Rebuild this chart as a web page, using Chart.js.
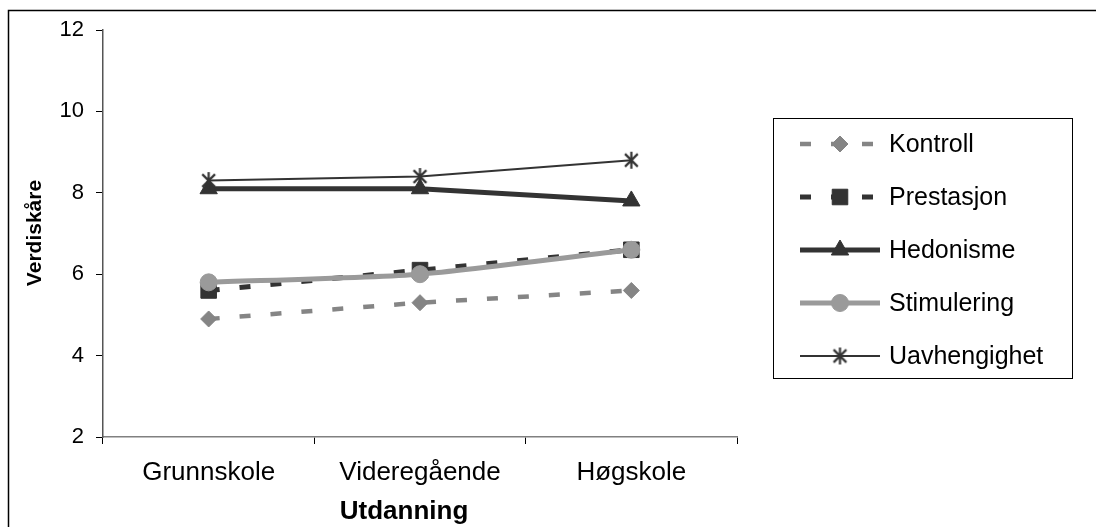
<!DOCTYPE html>
<html>
<head>
<meta charset="utf-8">
<script src="https://cdn.jsdelivr.net/npm/chart.js@4"></script>
<style>
  body { margin: 0; background: #fff; }
</style>
</head>
<body>
<canvas id="chart" width="1096" height="527"></canvas>
<script>
// Data
const categories = ['Grunnskole', 'Videregående', 'Høgskole'];
const kontroll = [4.9, 5.3, 5.6];
const prestasjon = [5.6, 6.1, 6.6];
const hedonisme = [8.1, 8.1, 7.8];
const stimulering = [5.8, 6.0, 6.6];
const uavhengighet = [8.3, 8.4, 8.8];
const yTicks = [2, 4, 6, 8, 10, 12];

const FONT = '"Liberation Sans", Arial, sans-serif';
Chart.defaults.font.family = FONT;
Chart.defaults.color = '#000';

// Excel style asterisk marker (vertical bar + X)
function makeStar(size, color) {
    const c = document.createElement('canvas');
    c.width = size; c.height = size;
    const g = c.getContext('2d');
    const m = size / 2, r = size / 2 - 1, d = r * 0.75;
    g.strokeStyle = color;
    g.lineWidth = 2.2;
    g.beginPath();
    g.moveTo(m, m - r); g.lineTo(m, m + r);
    g.moveTo(m - d, m - d); g.lineTo(m + d, m + d);
    g.moveTo(m + d, m - d); g.lineTo(m - d, m + d);
    g.stroke();
    return c;
}
const star = makeStar(19, '#333');

// Boxed legend, frame lines and axis titles
const decorations = {
    id: 'decorations',
    afterDraw(chart) {
        const ctx = chart.ctx;
        ctx.save();
        // outer frame (top + left only)
        ctx.strokeStyle = '#000';
        ctx.lineWidth = 1.5;
        ctx.beginPath();
        ctx.moveTo(8.5, 527); ctx.lineTo(8.5, 10.5); ctx.lineTo(1096, 10.5);
        ctx.stroke();

        // legend box
        ctx.lineWidth = 1;
        ctx.strokeRect(773.5, 118.5, 299, 260);
        chart.data.datasets.forEach((ds, i) => {
            const y = 144 + i * 53;
            ctx.beginPath();
            ctx.setLineDash(ds.borderDash || []);
            ctx.lineWidth = ds.borderWidth;
            ctx.strokeStyle = ds.borderColor;
            ctx.lineCap = 'butt';
            ctx.moveTo(800, y); ctx.lineTo(880, y);
            ctx.stroke();
            ctx.setLineDash([]);
            ctx.fillStyle = ds.pointBackgroundColor;
            ctx.strokeStyle = ds.pointBorderColor;
            ctx.lineWidth = ds.pointBorderWidth;
            Chart.helpers.drawPoint(ctx, {
                pointStyle: ds.pointStyle, radius: ds.pointRadius,
                rotation: 0, borderWidth: ds.pointBorderWidth
            }, 840, y);
            ctx.fillStyle = '#000';
            ctx.font = '25px ' + FONT;
            ctx.textAlign = 'left';
            ctx.textBaseline = 'middle';
            ctx.fillText(ds.label, 889, y + 1);
        });

        // axis titles
        ctx.fillStyle = '#000';
        ctx.font = 'bold 26px ' + FONT;
        ctx.textAlign = 'center';
        ctx.textBaseline = 'middle';
        ctx.fillText('Utdanning', 404, 512);
        ctx.translate(35, 233);
        ctx.rotate(-Math.PI / 2);
        ctx.font = 'bold 21px ' + FONT;
        ctx.fillText('Verdiskåre', 0, 0);
        ctx.restore();
    }
};

const ctx = document.getElementById('chart').getContext('2d');
new Chart(ctx, {
    type: 'line',
    data: {
        labels: categories,
        datasets: [
            {
                label: 'Kontroll', data: kontroll,
                borderColor: '#858585', borderWidth: 4.5, borderDash: [11, 20],
                pointStyle: 'rectRot', pointRadius: 8,
                pointBackgroundColor: '#858585', pointBorderColor: '#858585', pointBorderWidth: 1,
                order: 5
            },
            {
                label: 'Prestasjon', data: prestasjon,
                borderColor: '#333', borderWidth: 5, borderDash: [11, 20],
                pointStyle: 'rect', pointRadius: 11,
                pointBackgroundColor: '#333', pointBorderColor: '#333', pointBorderWidth: 1,
                order: 4
            },
            {
                label: 'Hedonisme', data: hedonisme,
                borderColor: '#333', borderWidth: 5,
                pointStyle: 'triangle', pointRadius: 10,
                pointBackgroundColor: '#333', pointBorderColor: '#333', pointBorderWidth: 1,
                order: 3
            },
            {
                label: 'Stimulering', data: stimulering,
                borderColor: '#9a9a9a', borderWidth: 5, tension: 0.2,
                pointStyle: 'circle', pointRadius: 8.5,
                pointBackgroundColor: '#9a9a9a', pointBorderColor: '#9a9a9a', pointBorderWidth: 1,
                order: 2
            },
            {
                label: 'Uavhengighet', data: uavhengighet,
                borderColor: '#333', borderWidth: 2,
                pointStyle: star, pointRadius: 9,
                pointBackgroundColor: '#333', pointBorderColor: '#333', pointBorderWidth: 1,
                order: 1
            }
        ]
    },
    options: {
        responsive: false,
        animation: false,
        layout: { padding: { left: 0, top: 30, right: 359, bottom: 0 } },
        plugins: {
            legend: { display: false },
            tooltip: { enabled: false }
        },
        scales: {
            x: {
                offset: true,
                border: { color: '#808080', width: 1.5 },
                grid: { drawOnChartArea: false, drawTicks: true, tickLength: 7, color: '#000', offset: true },
                ticks: { font: { size: 26 }, padding: 13, color: '#000' },
                afterFit(scale) { scale.height = 90; }
            },
            y: {
                min: 2, max: 12,
                border: { color: '#555', width: 1.5 },
                grid: { drawOnChartArea: false, drawTicks: true, tickLength: 7, color: '#000' },
                ticks: { font: { size: 22 }, padding: 12, color: '#000' },
                afterBuildTicks(scale) { scale.ticks = yTicks.map(v => ({ value: v })); },
                afterFit(scale) { scale.width = 103; }
            }
        }
    },
    plugins: [decorations]
});
</script>
</body>
</html>
